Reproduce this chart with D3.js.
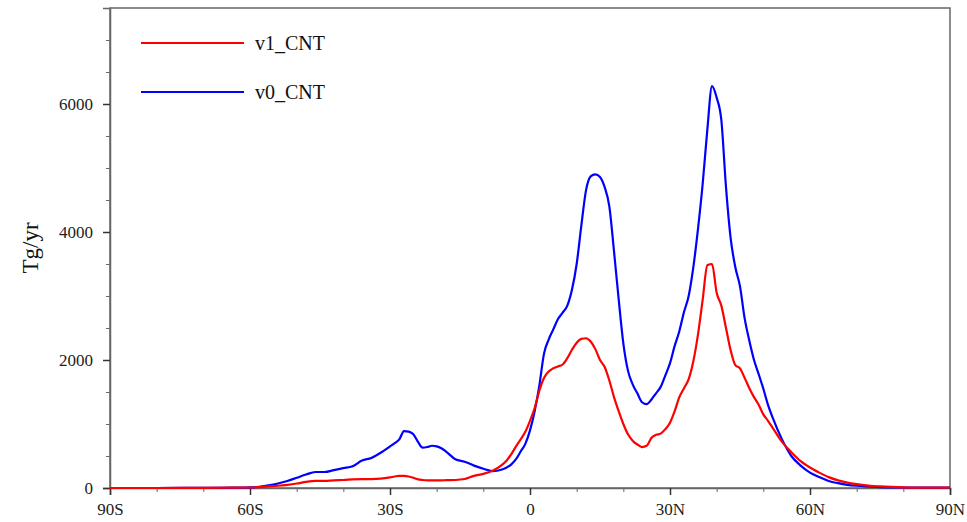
<!DOCTYPE html>
<html>
<head>
<meta charset="utf-8">
<script src="https://cdn.jsdelivr.net/npm/d3@7"></script>
<style>
  body { margin: 0; background: #fff; }
  svg { display: block; font-family: "Liberation Serif", "DejaVu Serif", serif; }
</style>
</head>
<body>
<div id="container"></div>
<script>
// latitude grid (deg, negative = south)
const lats = [-90, -80, -70, -64, -60, -58, -56, -54, -52, -50, -48, -46, -44, -42, -40, -38, -36, -34, -32, -30,
  -29, -28, -27, -26, -25, -24, -23, -22, -21, -20, -19, -18, -16, -14, -12, -10, -8, -6, -5, -4, -3, -2, -1,
  0, 1, 2, 3, 4, 5, 6, 7, 8, 9, 10, 11, 12, 13, 14, 15, 16, 17, 18, 19, 20, 21, 22, 23, 24, 25, 26, 27, 28, 29,
  30, 31, 32, 33, 34, 35, 36, 37, 38, 39, 40, 41, 42, 43, 44, 45, 46, 47, 48, 49, 50, 51, 52, 54, 56, 58, 60,
  62, 64, 66, 68, 70, 72, 75, 80, 85, 90];

const v0_CNT = [0, 0, 2, 5, 10, 20, 40, 70, 110, 160, 210, 250, 250, 280, 310, 340, 430, 470, 550, 650,
  700, 760, 890, 880, 840, 720, 630, 640, 660, 650, 620, 570, 450, 410, 350, 300, 265, 290, 320, 370, 450, 570, 690,
  900, 1200, 1600, 2100, 2320, 2480, 2640, 2740, 2850, 3100, 3500, 4100, 4650, 4870, 4900, 4860, 4700, 4400, 3700, 2950,
  2260, 1830, 1620, 1480, 1340, 1310, 1380, 1480, 1580, 1760,
  1950, 2220, 2450, 2750, 3000, 3450, 4050, 4750, 5600, 6280, 6100, 5750, 4700, 3900, 3450, 3150, 2650, 2300, 2000, 1780,
  1550, 1300, 1100, 760, 500, 350, 240,
  170, 110, 75, 50, 35, 25, 15, 8, 5, 5];

const v1_CNT = [0, 0, 2, 5, 8, 15, 25, 35, 50, 70, 95, 110, 110, 120, 125, 135, 140, 140, 145, 165,
  180, 190, 190, 180, 160, 135, 125, 120, 120, 120, 120, 122, 125, 140, 190, 220, 270, 360, 430, 530, 650, 760, 880,
  1050, 1250, 1520, 1720, 1820, 1870, 1900, 1930, 2030, 2160, 2270, 2330, 2340, 2290, 2170, 2000, 1890, 1680, 1420, 1200,
  1000, 840, 740, 680, 640, 660, 780, 830, 850, 920,
  1020, 1200, 1420, 1560, 1700, 1980, 2400, 2940, 3480, 3500, 3050, 2850, 2500, 2150, 1920, 1870, 1720, 1560, 1420, 1300,
  1150, 1050, 940, 720, 560, 420, 320,
  240, 170, 120, 85, 60, 40, 25, 10, 5, 5];

const xTicks = [-90, -60, -30, 0, 30, 60, 90];
const xTickLabels = ["90S", "60S", "30S", "0", "30N", "60N", "90N"];
const yTicks = [0, 2000, 4000, 6000];
const series = [
  { name: "v1_CNT", values: v1_CNT, color: "#ff0000" },
  { name: "v0_CNT", values: v0_CNT, color: "#0000ff" }
];

const width = 967, height = 522;
const margin = { top: 8, right: 17, bottom: 34, left: 110 };

const svg = d3.select("#container").append("svg")
  .attr("width", width)
  .attr("height", height);

const x = d3.scaleLinear().domain([-90, 90]).range([margin.left, width - margin.right]);
const y = d3.scaleLinear().domain([0, 7500]).range([height - margin.bottom, margin.top]);

const axisColor = "#666";

// frame
svg.append("rect")
  .attr("x", x(-90)).attr("y", y(7500))
  .attr("width", x(90) - x(-90)).attr("height", y(0) - y(7500))
  .attr("fill", "none").attr("stroke", axisColor).attr("stroke-width", 1.5);

// x axis: major + minor ticks
const xAxis = svg.append("g")
  .attr("transform", `translate(0,${y(0)})`)
  .call(d3.axisBottom(x).tickValues(xTicks).tickSize(7).tickPadding(8)
    .tickFormat((d, i) => xTickLabels[i]));
svg.append("g")
  .attr("transform", `translate(0,${y(0)})`)
  .call(d3.axisBottom(x).tickValues(d3.range(-80, 90, 10).filter(d => d % 30 != 0)).tickSize(4).tickFormat(""))
  .call(g => g.select(".domain").remove())
  .selectAll("line").attr("stroke", axisColor);

const yAxis = svg.append("g")
  .attr("transform", `translate(${x(-90)},0)`)
  .call(d3.axisLeft(y).tickValues(yTicks).tickSize(7).tickPadding(10).tickFormat(d3.format("d")));
svg.append("g")
  .attr("transform", `translate(${x(-90)},0)`)
  .call(d3.axisLeft(y).tickValues(d3.range(500, 7500, 500).filter(d => d % 2000 != 0)).tickSize(4).tickFormat(""))
  .call(g => g.select(".domain").remove())
  .selectAll("line").attr("stroke", axisColor);

[xAxis, yAxis].forEach(g => {
  g.select(".domain").attr("stroke", axisColor).attr("stroke-width", 1.5);
  g.selectAll(".tick line").attr("stroke", "#333").attr("stroke-width", 1.5);
  g.selectAll("text")
    .attr("font-family", "Liberation Serif, serif")
    .attr("font-size", 17)
    .attr("fill", "#222");
});

svg.append("text")
  .attr("transform", `translate(38,${(y(0) + y(7500)) / 2}) rotate(-90)`)
  .attr("text-anchor", "middle")
  .attr("font-size", 23)
  .attr("fill", "#111")
  .text("Tg/yr");

// lines
const line = d3.line()
  .x((d, i) => x(lats[i]))
  .y(d => y(d))
  .curve(d3.curveMonotoneX);

svg.append("g")
  .selectAll("path")
  .data(series.slice().reverse())
  .join("path")
  .attr("fill", "none")
  .attr("stroke", d => d.color)
  .attr("stroke-width", 2.2)
  .attr("stroke-linejoin", "round")
  .attr("d", d => line(d.values));

// legend
const legend = svg.append("g")
  .selectAll("g")
  .data(series)
  .join("g")
  .attr("transform", (d, i) => `translate(141,${43 + i * 49})`);
legend.append("line")
  .attr("x1", 0).attr("x2", 103)
  .attr("stroke", d => d.color)
  .attr("stroke-width", 2.2);
legend.append("text")
  .attr("x", 114)
  .attr("dy", "0.35em")
  .attr("font-size", 20)
  .attr("fill", "#111")
  .text(d => d.name);
</script>
</body>
</html>
